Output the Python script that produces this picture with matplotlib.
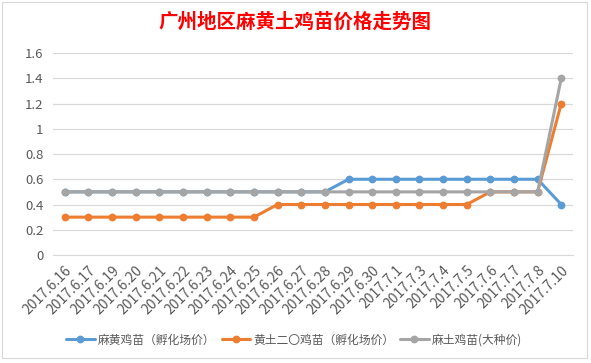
import matplotlib
matplotlib.use('Agg')
from matplotlib import pyplot as plt
from matplotlib.patches import Rectangle

plt.rcParams['font.family'] = ['Noto Sans CJK SC', 'DejaVu Sans']

# données
dates = ['2017.6.16', '2017.6.17', '2017.6.19', '2017.6.20', '2017.6.21',
         '2017.6.22', '2017.6.23', '2017.6.24', '2017.6.25', '2017.6.26',
         '2017.6.27', '2017.6.28', '2017.6.29', '2017.6.30', '2017.7.1',
         '2017.7.3', '2017.7.4', '2017.7.5', '2017.7.6', '2017.7.7',
         '2017.7.8', '2017.7.10']
mahuang = [0.5, 0.5, 0.5, 0.5, 0.5, 0.5, 0.5, 0.5, 0.5, 0.5, 0.5, 0.5,
           0.6, 0.6, 0.6, 0.6, 0.6, 0.6, 0.6, 0.6, 0.6, 0.4]
huangtu = [0.3, 0.3, 0.3, 0.3, 0.3, 0.3, 0.3, 0.3, 0.3, 0.4, 0.4, 0.4,
           0.4, 0.4, 0.4, 0.4, 0.4, 0.4, 0.5, 0.5, 0.5, 1.2]
matu = [0.5, 0.5, 0.5, 0.5, 0.5, 0.5, 0.5, 0.5, 0.5, 0.5, 0.5, 0.5,
        0.5, 0.5, 0.5, 0.5, 0.5, 0.5, 0.5, 0.5, 0.5, 1.4]
labels = ['麻黄鸡苗（孵化场价）', '黄土二〇鸡苗（孵化场价）', '麻土鸡苗(大种价)']
colors = ['#5B9BD5', '#ED7D31', '#A5A5A5']
yticks = [0, 0.2, 0.4, 0.6, 0.8, 1, 1.2, 1.4, 1.6]

fig = plt.figure(figsize=(5.91, 3.63), dpi=100)
ax = fig.add_axes([0.0897, 0.2975, 0.88, 0.5565])

x = list(range(len(dates)))
for y, lab, col in zip([mahuang, huangtu, matu], labels, colors):
    ax.plot(x, y, color=col, lw=2.2, marker='o', markersize=4.6, label=lab,
            solid_capstyle='round')

ax.set_xlim(-0.5, len(dates) - 0.5)
ax.set_ylim(0, 1.6)
ax.set_yticks(yticks)
ax.set_yticklabels(['0', '0.2', '0.4', '0.6', '0.8', '1', '1.2', '1.4', '1.6'])
ax.set_xticks(x)
ax.set_xticklabels(dates, rotation=45, ha='right', rotation_mode='anchor')
ax.tick_params(axis='y', length=0, pad=7, labelsize=9.5, labelcolor='#595959')
ax.tick_params(axis='x', length=0, pad=6, labelsize=10, labelcolor='#595959')
ax.grid(axis='y', color='#D9D9D9', lw=0.9)
ax.set_axisbelow(True)
for s in ['top', 'right', 'left']:
    ax.spines[s].set_visible(False)
ax.spines['bottom'].set_color('#D9D9D9')

fig.text(0.499, 0.939, '广州地区麻黄土鸡苗价格走势图', color='#FF0000',
         fontsize=14, fontweight='bold', ha='center', va='center')

fig.legend(loc='center', bbox_to_anchor=(0.498, 0.063), ncol=3, frameon=False,
           fontsize=8.5, handlelength=2.4, columnspacing=0.5, handletextpad=0.3,
           labelcolor='#595959')

# cadre du graphique
fig.patches.append(Rectangle((0.004, 0.014), 0.989, 0.98, transform=fig.transFigure,
                             fill=False, edgecolor='#D9D9D9', lw=0.8))

fig.savefig('out.png', dpi=100)
